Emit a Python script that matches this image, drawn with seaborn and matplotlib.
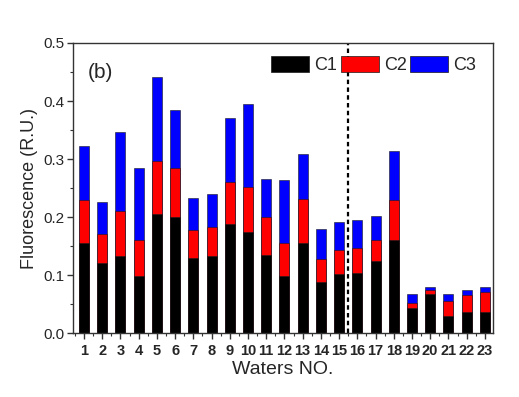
import matplotlib
matplotlib.use("Agg")
import matplotlib.pyplot as plt
from matplotlib.ticker import MultipleLocator
from matplotlib.patches import Patch
import seaborn as sns
import pandas as pd

# Data (cumulative tops converted to components)
waters = [str(i) for i in range(1, 24)]
c1 = [0.156, 0.120, 0.133, 0.098, 0.205, 0.200, 0.129, 0.133, 0.188, 0.175, 0.134, 0.099,
      0.156, 0.088, 0.101, 0.103, 0.125, 0.160, 0.043, 0.068, 0.030, 0.036, 0.037]
c2 = [0.074, 0.051, 0.077, 0.062, 0.091, 0.084, 0.049, 0.050, 0.072, 0.077, 0.066, 0.056,
      0.075, 0.040, 0.043, 0.044, 0.036, 0.070, 0.009, 0.007, 0.026, 0.030, 0.033]
c3 = [0.092, 0.055, 0.136, 0.124, 0.145, 0.100, 0.054, 0.057, 0.110, 0.143, 0.065, 0.109,
      0.077, 0.052, 0.047, 0.048, 0.040, 0.084, 0.015, 0.005, 0.012, 0.009, 0.009]
series_names = ["C1", "C2", "C3"]
series_colors = ["#000000", "#ff0000", "#0000ff"]

df = pd.DataFrame({"Waters": waters, "C1": c1, "C2": c2, "C3": c3})
df["s1"] = df["C1"]
df["s2"] = df["C1"] + df["C2"]
df["s3"] = df["C1"] + df["C2"] + df["C3"]

sns.set_theme(style="ticks")
plt.rcParams["font.family"] = ["Liberation Sans", "DejaVu Sans"]

fig = plt.figure(figsize=(5.19, 3.97), dpi=100)
ax = fig.add_axes([0.1407, 0.161, 0.8093, 0.7307])

# stacked bars drawn as overlaid cumulative totals
for col, color in zip(["s3", "s2", "s1"], series_colors[::-1]):
    sns.barplot(data=df, x="Waters", y=col, order=waters, color=color, width=0.55,
                edgecolor="#1a1a1a", linewidth=0.4, saturation=1, ax=ax)

ax.axvline(14.5, color="black", linestyle=(0, (2, 1.5)), linewidth=1.6)

ax.set_xlim(-0.6, 22.45)
ax.set_ylim(0, 0.5)
ax.yaxis.set_major_locator(MultipleLocator(0.1))
ax.yaxis.set_minor_locator(MultipleLocator(0.05))
ax.xaxis.set_minor_locator(MultipleLocator(0.5))
ax.yaxis.set_major_formatter(matplotlib.ticker.FormatStrFormatter("%.1f"))

for s in ax.spines.values():
    s.set_visible(True)
    s.set_color("#333333")
    s.set_linewidth(1.0)

ax.tick_params(axis="both", which="major", direction="out", length=4, width=1, color="#333333")
ax.tick_params(axis="both", which="minor", direction="out", length=2, width=0.8, color="#333333")
ax.tick_params(axis="y", labelsize=11, pad=2)
ax.tick_params(axis="x", labelsize=10.5, pad=4)
for lab in ax.get_xticklabels():
    lab.set_fontweight("bold")

ax.set_xlabel("Waters NO.", fontsize=14, labelpad=2)
ax.set_ylabel("Fluorescence (R.U.)", fontsize=13, labelpad=4)

ax.text(0.035, 0.93, "(b)", transform=ax.transAxes, fontsize=15, va="top", ha="left")

handles = [Patch(facecolor=c, edgecolor="#1a1a1a", linewidth=0.5) for c in series_colors]
ax.legend(handles, series_names, loc="upper right", ncol=3, frameon=False,
          fontsize=13, handlelength=2.1, handleheight=1.05, handletextpad=0.28,
          columnspacing=0.2, bbox_to_anchor=(0.99, 1.0), borderaxespad=0.3)

fig.savefig("out.png", dpi=100)
